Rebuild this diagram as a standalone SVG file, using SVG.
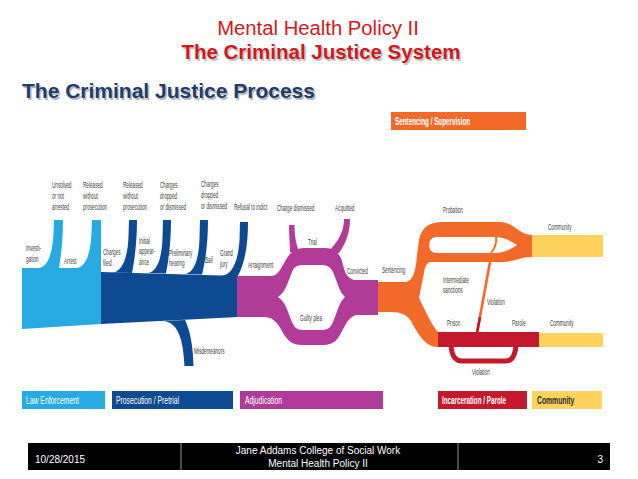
<svg xmlns="http://www.w3.org/2000/svg" width="638" height="479" viewBox="0 0 638 479">
<style>
.lb{font-family:"Liberation Sans",Arial,sans-serif;font-size:8.5px;fill:#3c3c3c}
.lg{font-family:"Liberation Sans",Arial,sans-serif;font-size:10px;fill:#fff}
.lb-blue{fill:#27aae1}.db{fill:#0e4a91}.pu{fill:#b13c98}.or{fill:#f26a2a}.rd{fill:#c4182d}.ye{fill:#fdd35c}
.ft{font-family:"Liberation Sans",Arial,sans-serif;font-size:10px;fill:#fff}
</style>
<rect width="638" height="479" fill="#fff"/>

<g id="titles">
<text x="318" y="35" text-anchor="middle" font-family="Liberation Sans, Arial, sans-serif" font-size="19.5" fill="#d0181e" transform="translate(318 0) scale(1.04 1) translate(-318 0)">Mental Health Policy II</text>
<text x="322.5" y="60.5" text-anchor="middle" font-family="Liberation Sans, Arial, sans-serif" font-size="20.5" font-weight="bold" fill="#9a9a9a" opacity="0.6">The Criminal Justice System</text>
<text x="321" y="59" text-anchor="middle" font-family="Liberation Sans, Arial, sans-serif" font-size="20.5" font-weight="bold" fill="#d0181e">The Criminal Justice System</text>
<text x="23.5" y="99.5" font-family="Liberation Sans, Arial, sans-serif" font-size="21" font-weight="bold" fill="#8a8a8a" opacity="0.6">The Criminal Justice Process</text>
<text x="22" y="98" font-family="Liberation Sans, Arial, sans-serif" font-size="21" font-weight="bold" fill="#1f3c6c">The Criminal Justice Process</text>
</g>

<g id="sentencing-header">
<rect x="391" y="112" width="135" height="18" class="or"/>
<text class="lg" font-weight="bold" transform="translate(395 125) scale(.63 1)">Sentencing / Supervision</text>
</g>

<g id="law-enforcement">
<path class="lb-blue" d="M22,268 L101,268 L101,324 L22,329 Z"/>
<path class="lb-blue" d="M38,268 C48,268 53,252 53.5,232 L54,220 L63,220 C63,240 61,256 59,268 Z"/>
<path class="lb-blue" d="M76,268 C86,268 91,252 91.5,232 L92,220 L101,220 L101,268 Z"/>
</g>

<g id="prosecution">
<path class="db" d="M101,272 L238,276 L238,317 L101,324 Z"/>
<path class="db" d="M112,272.5 C122,272.5 128,257 128.5,236 L129,220 L137,220 C137,240 135,258 132,273 Z"/>
<path class="db" d="M147,273 C157,273 162,258 162.5,237 L163,220 L171,220 C171,240 169,258 166,273.5 Z"/>
<path class="db" d="M184,274 C194,274 199,259 199.5,238 L200,220 L208,220 C208,240 206,259 202,274.5 Z"/>
<path class="db" d="M220,276 C232,276 238,262 239.5,240 L240,222 L248,222 C248,245 245,262 238,276 Z"/>
<path class="db" d="M163,321 C176,322 183,334 184.5,366 L193.5,366 C193,342 189,328 185,320 Z"/>
</g>

<g id="adjudication">
<path class="pu" fill-rule="evenodd" d="M237,276 L271,276 C280,276 283,262 290,254 C294,249 300,248 306,248 L325,248 C333,248 338,252 341,258 C344,266 344,277 354,280 L378,280 L378,315 L356,315 C346,318 344,330 338,338 C334,344 328,345 322,345 L302,345 C294,345 289,342 285,336 C280,328 276,317 264,317 L237,317 Z M278,297 C286,292 288,281 292,272 C294,267 297,265 303,265 L322,265 C328,265 331,268 333,272 C337,281 339,292 345,297 C339,302 337,313 333,322 C331,327 328,330 322,330 L303,330 C297,330 294,327 292,322 C288,313 286,302 278,297 Z"/>
<path class="pu" d="M289,225 L294.5,225 C294.5,236 296,243 299,252 L290,252 C290,243 289,236 289,225 Z"/>
<path class="pu" d="M344,219 L350,219 C350,233 346,243 339,253 L327,253 C337,243 344,233 344,219 Z"/>
</g>

<g id="sentencing">
<path class="or" d="M378,282 L405,282 C413,282 416,270 417,255 L419,240 C421,228 429,222 442,222 L500,222 C514,222 519,235 532,235 L532,257 C519,257 514,262 503,262 L431,262 C427,262 425,266 424,273 L419,298 C425,310 431,324 438,332 L438,347 C426,347 419,336 411,321 C407,315 401,312 391,312 L378,312 Z"/>
<path fill="#fff" d="M436,237 L494,237 C504,237 511,241 517,245 C511,249 504,253 494,253 L436,253 C427,253 427,237 436,237 Z"/>
</g>

<g id="incarceration">
<rect x="438" y="332" width="101" height="15" class="rd"/>
</g>

<g id="community">
<rect x="532" y="235" width="71" height="22" class="ye"/>
<rect x="539" y="333" width="64" height="14" class="ye"/>
</g>

<g id="connectors" fill="none" stroke-width="2.6">
<path d="M477,333 L490,262" stroke="#f26a2a"/>
<path d="M477,333 L480,317" stroke="#c4182d"/>
<path d="M491,253 C495,248 497,243 496,237" stroke="#f26a2a" stroke-width="2"/>
<path d="M451,346 C452,356 455,361 462,361 L506,361 C512,361 515,356 516,346" stroke="#c4182d" stroke-width="5"/>
</g>

<g id="labels">
<text class="lb" transform="translate(52 188) scale(.55 1)">Unsolved<tspan x="0" dy="11">or not</tspan><tspan x="0" dy="11">arrested</tspan></text>
<text class="lb" transform="translate(83 188) scale(.55 1)">Released<tspan x="0" dy="11">without</tspan><tspan x="0" dy="11">prosecution</tspan></text>
<text class="lb" transform="translate(123 188) scale(.55 1)">Released<tspan x="0" dy="11">without</tspan><tspan x="0" dy="11">prosecution</tspan></text>
<text class="lb" transform="translate(160 188) scale(.55 1)">Charges<tspan x="0" dy="11">dropped</tspan><tspan x="0" dy="11">or dismissed</tspan></text>
<text class="lb" transform="translate(201 187) scale(.55 1)">Charges<tspan x="0" dy="11">dropped</tspan><tspan x="0" dy="11">or dismissed</tspan></text>
<text class="lb" transform="translate(234 210) scale(.55 1)">Refusal to indict</text>
<text class="lb" transform="translate(277 211) scale(.55 1)">Charge dismissed</text>
<text class="lb" transform="translate(335 211) scale(.55 1)">Acquitted</text>
<text class="lb" transform="translate(26 251) scale(.55 1)">Investi-<tspan x="0" dy="11">gation</tspan></text>
<text class="lb" transform="translate(64 264) scale(.55 1)">Arrest</text>
<text class="lb" transform="translate(103 255) scale(.55 1)">Charges<tspan x="0" dy="11">filed</tspan></text>
<text class="lb" transform="translate(139 244) scale(.55 1)">Initial<tspan x="0" dy="10.5">appear-</tspan><tspan x="0" dy="10.5">ance</tspan></text>
<text class="lb" transform="translate(169 256) scale(.55 1)">Preliminary<tspan x="0" dy="10.5">hearing</tspan></text>
<text class="lb" transform="translate(205 263) scale(.55 1)">Bail</text>
<text class="lb" transform="translate(220 256) scale(.55 1)">Grand<tspan x="0" dy="11">jury</tspan></text>
<text class="lb" transform="translate(248 268) scale(.55 1)">Arraignment</text>
<text class="lb" transform="translate(308 245) scale(.55 1)">Trial</text>
<text class="lb" transform="translate(347 274) scale(.55 1)">Convicted</text>
<text class="lb" transform="translate(300 321) scale(.55 1)">Guilty plea</text>
<text class="lb" transform="translate(194 354) scale(.55 1)">Misdemeanors</text>
<text class="lb" transform="translate(382 273) scale(.55 1)">Sentencing</text>
<text class="lb" transform="translate(443 213) scale(.55 1)">Probation</text>
<text class="lb" transform="translate(548 230) scale(.55 1)">Community</text>
<text class="lb" transform="translate(443 283) scale(.55 1)">Intermediate<tspan x="0" dy="10.5">sanctions</tspan></text>
<text class="lb" transform="translate(487 305) scale(.55 1)">Violation</text>
<text class="lb" transform="translate(447 326) scale(.55 1)">Prison</text>
<text class="lb" transform="translate(512 326) scale(.55 1)">Parole</text>
<text class="lb" transform="translate(550 326) scale(.55 1)">Community</text>
<text class="lb" transform="translate(472 375) scale(.55 1)">Violation</text>
</g>

<g id="legend">
<rect x="22" y="391" width="83" height="18" class="lb-blue"/>
<text class="lg" transform="translate(26 404) scale(.68 1)">Law Enforcement</text>
<rect x="112" y="391" width="121" height="18" class="db"/>
<text class="lg" transform="translate(116 404) scale(.68 1)">Prosecution / Pretrial</text>
<rect x="240" y="391" width="143" height="18" class="pu"/>
<text class="lg" transform="translate(245 404) scale(.68 1)">Adjudication</text>
<rect x="438" y="391" width="89" height="18" class="rd"/>
<text class="lg" font-weight="bold" transform="translate(442 404) scale(.63 1)">Incarceration / Parole</text>
<rect x="532" y="391" width="70" height="18" class="ye"/>
<text class="lg" font-weight="bold" fill="#2a2a2a" style="fill:#2a2a2a" transform="translate(537 404) scale(.68 1)">Community</text>
</g>

<g id="footer">
<rect x="28" y="443" width="582" height="27" fill="#000"/>
<line x1="181" y1="443" x2="181" y2="470" stroke="#bbb" stroke-width="0.8"/>
<line x1="458" y1="443" x2="458" y2="470" stroke="#bbb" stroke-width="0.8"/>
<text class="ft" x="35" y="463">10/28/2015</text>
<text class="ft" x="318" y="454" text-anchor="middle">Jane Addams College of Social Work</text>
<text class="ft" x="318" y="467" text-anchor="middle">Mental Health Policy II</text>
<text class="ft" x="603" y="463" text-anchor="end">3</text>
</g>
</svg>
